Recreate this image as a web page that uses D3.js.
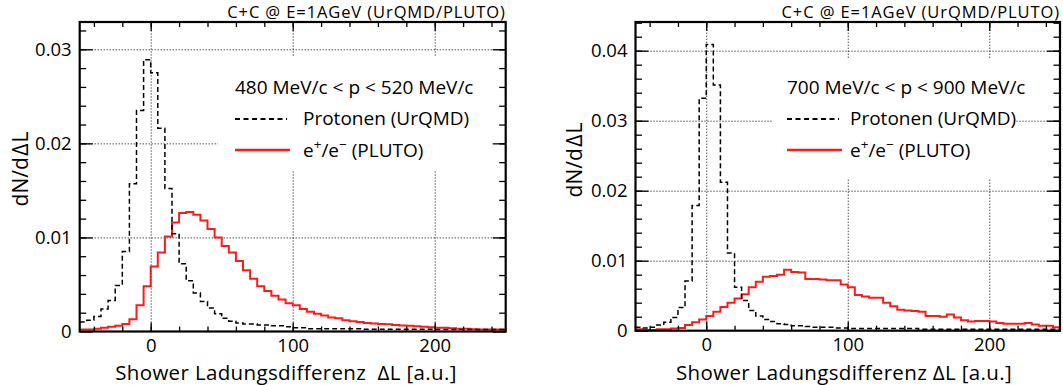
<!DOCTYPE html>
<html>
<head>
<meta charset="utf-8">
<script src="https://cdn.jsdelivr.net/npm/d3@7/dist/d3.min.js"></script>
<style>
  body { margin: 0; background: #fff; }
  svg { display: block; font-family: "Open Sans", Lato, sans-serif; }
  .pre { white-space: pre; }
</style>
</head>
<body>
<svg id="chart" width="1063" height="385"></svg>
<script>
// Lower edges of the 5-unit histogram bins, -50 ... 245
const binLow = d3.range(-50, 250, 5);

// 480 MeV/c < p < 520 MeV/c
const protonsLow = [
  0.0010, 0.0012, 0.0016, 0.0024, 0.0033, 0.0049, 0.0085, 0.0157, 0.0235, 0.0289,
  0.0275, 0.0216, 0.0152, 0.0104, 0.0072, 0.0054, 0.0041, 0.0032, 0.0025, 0.0019,
  0.0014, 0.0011, 0.0009, 0.0008, 0.0008, 0.0007, 0.0007, 0.0006, 0.0006, 0.0005,
  0.0004, 0.0004, 0.0003, 0.0003, 0.0003, 0.0003, 0.0003, 0.0003, 0.0003, 0.0003,
  0.00025, 0.00025, 0.00025, 0.00025, 0.00025, 0.00025, 0.00025, 0.00025, 0.00025, 0.00025,
  0.0002, 0.0002, 0.0002, 0.0002, 0.0002, 0.0002, 0.0002, 0.0002, 0.0002, 0.0002
];
const leptonsLow = [
  0.0002, 0.0002, 0.0003, 0.0004, 0.0005, 0.0006, 0.0008, 0.0013, 0.0028, 0.0048,
  0.0069, 0.0084, 0.0101, 0.0116, 0.0126, 0.0127, 0.0124, 0.0118, 0.0109, 0.0100,
  0.0091, 0.0084, 0.0075, 0.0065, 0.0056, 0.0048, 0.0043, 0.0038, 0.0034, 0.0030,
  0.0028, 0.0024, 0.0021, 0.0019, 0.0017, 0.0015, 0.0014, 0.0012, 0.0011, 0.0010,
  0.0009, 0.00085, 0.0008, 0.00077, 0.0007, 0.00065, 0.0006, 0.00055, 0.0005, 0.00045,
  0.0004, 0.0004, 0.00035, 0.0003, 0.0003, 0.00025, 0.00022, 0.0002, 0.0002, 0.0002
];

// 700 MeV/c < p < 900 MeV/c
const protonsHigh = [
  0.0005, 0.0004, 0.0005, 0.0008, 0.0012, 0.0019, 0.0033, 0.0071, 0.0179, 0.0332,
  0.0409, 0.0351, 0.0212, 0.0111, 0.0062, 0.0043, 0.0029, 0.0021, 0.0016, 0.0013,
  0.0010, 0.0009, 0.0007, 0.0007, 0.0006, 0.0005, 0.0005, 0.0005, 0.0004, 0.0004,
  0.0003, 0.0003, 0.0003, 0.0003, 0.0003, 0.0003, 0.0003, 0.0003, 0.0003, 0.0003,
  0.0002, 0.0002, 0.0002, 0.0002, 0.0002, 0.0002, 0.0002, 0.0002, 0.0002, 0.0002,
  0.0002, 0.0002, 0.0002, 0.0002, 0.0002, 0.0002, 0.0002, 0.0002, 0.0002, 0.0002
];
const leptonsHigh = [
  0.0002, 0.0001, 0.0001, 0.0002, 0.0002, 0.0003, 0.0004, 0.0008, 0.0012, 0.0016,
  0.0021, 0.0027, 0.0034, 0.0040, 0.0046, 0.0052, 0.0062, 0.0070, 0.0077, 0.0078,
  0.0080, 0.0087, 0.0084, 0.0083, 0.0074, 0.0074, 0.0073, 0.0072, 0.0072, 0.0066,
  0.0062, 0.0051, 0.0049, 0.0047, 0.0047, 0.0040, 0.0035, 0.0030, 0.0029, 0.0028,
  0.0027, 0.0021, 0.0021, 0.0020, 0.0023, 0.0019, 0.0015, 0.0013, 0.0014, 0.0014,
  0.0013, 0.0011, 0.0010, 0.0010, 0.0010, 0.0011, 0.0009, 0.0007, 0.0007, 0.0005
];

const xDomain = [-50, 250];
const xMajorTicks = [0, 100, 200];
const xMinorTicks = d3.range(-40, 250, 20);
const yTicksLow = [0, 0.01, 0.02, 0.03];
const yTicksHigh = [0, 0.01, 0.02, 0.03, 0.04];

const titleText = "C+C @ E=1AGeV (UrQMD/PLUTO)";
const protonLabel = "Protonen (UrQMD)";

const svg = d3.select("#chart");
svg.append("rect").attr("width", 1063).attr("height", 385).attr("fill", "#fff");

const fmtY = v => (v === 0 ? "0" : d3.format(".2f")(v));

function drawPanel(cfg) {
  const g = svg.append("g");
  const x = d3.scaleLinear().domain(xDomain).range([cfg.left, cfg.right]);
  const y = d3.scaleLinear().domain([0, cfg.ymax]).range([cfg.bottom, cfg.top]);
  const w = cfg.right - cfg.left, h = cfg.bottom - cfg.top;

  // dotted grid
  const gridX = g.append("g").attr("transform", `translate(0,${cfg.bottom})`)
    .call(d3.axisBottom(x).tickValues(xMajorTicks).tickSize(-h).tickFormat(""));
  const gridY = g.append("g").attr("transform", `translate(${cfg.left},0)`)
    .call(d3.axisLeft(y).tickValues(cfg.yTicks.filter(v => v > 0)).tickSize(-w).tickFormat(""));
  [gridX, gridY].forEach(s => {
    s.select(".domain").remove();
    s.selectAll("line").attr("stroke", "#000").attr("stroke-width", 1).attr("stroke-dasharray", "1,2");
  });

  // legend background
  g.append("rect")
    .attr("x", cfg.legend.boxX).attr("y", cfg.legend.boxY)
    .attr("width", cfg.legend.boxW).attr("height", cfg.legend.boxH)
    .attr("fill", "#fff");

  // histograms
  const clipId = "clip-" + cfg.id;
  svg.append("clipPath").attr("id", clipId).append("rect")
    .attr("x", cfg.left).attr("y", cfg.top).attr("width", w).attr("height", h);
  const step = d3.line().x(d => x(d[0])).y(d => y(d[1])).curve(d3.curveStepAfter);
  const pts = vals => binLow.map((b, i) => [b, vals[i]]).concat([[xDomain[1], vals[vals.length - 1]]]);
  const hg = g.append("g").attr("clip-path", `url(#${clipId})`);
  hg.append("path").attr("d", step(pts(cfg.leptons)))
    .attr("fill", "none").attr("stroke", "#ff1a1a").attr("stroke-width", 2);
  hg.append("path").attr("d", step(pts(cfg.protons)))
    .attr("fill", "none").attr("stroke", "#000").attr("stroke-width", 1.5)
    .attr("stroke-dasharray", "5,3");

  // frame
  g.append("rect").attr("x", cfg.left).attr("y", cfg.top).attr("width", w).attr("height", h)
    .attr("fill", "none").attr("stroke", "#000").attr("stroke-width", 2.2);

  // ticks on all four sides, pointing inward
  const tickStyle = s => {
    s.select(".domain").remove();
    s.selectAll("line").attr("stroke", "#000").attr("stroke-width", 1.3);
  };
  const yMinor = d3.range(1, Math.floor(cfg.ymax / 0.002) + 1).map(k => k * 0.002);
  g.append("g").attr("transform", `translate(0,${cfg.bottom})`)
    .call(d3.axisBottom(x).tickValues(xMinorTicks).tickSizeInner(-5).tickSizeOuter(0).tickFormat("")).call(tickStyle);
  g.append("g").attr("transform", `translate(0,${cfg.top})`)
    .call(d3.axisTop(x).tickValues(xMinorTicks).tickSizeInner(-5).tickSizeOuter(0).tickFormat("")).call(tickStyle);
  g.append("g").attr("transform", `translate(0,${cfg.top})`)
    .call(d3.axisTop(x).tickValues(xMajorTicks).tickSizeInner(-9).tickSizeOuter(0).tickFormat("")).call(tickStyle);
  const xb = g.append("g").attr("transform", `translate(0,${cfg.bottom})`)
    .call(d3.axisBottom(x).tickValues(xMajorTicks).tickSizeInner(-9).tickSizeOuter(0).tickPadding(7)).call(tickStyle);
  xb.selectAll("text").attr("font-size", 18.5).attr("font-family", "'Open Sans', sans-serif").attr("fill", "#000");

  g.append("g").attr("transform", `translate(${cfg.left},0)`)
    .call(d3.axisLeft(y).tickValues(yMinor).tickSizeInner(-6.5).tickSizeOuter(0).tickFormat("")).call(tickStyle);
  g.append("g").attr("transform", `translate(${cfg.right},0)`)
    .call(d3.axisRight(y).tickValues(yMinor).tickSizeInner(-6.5).tickSizeOuter(0).tickFormat("")).call(tickStyle);
  g.append("g").attr("transform", `translate(${cfg.right},0)`)
    .call(d3.axisRight(y).tickValues(cfg.yTicks).tickSizeInner(-13).tickSizeOuter(0).tickFormat("")).call(tickStyle);
  const yl = g.append("g").attr("transform", `translate(${cfg.left},0)`)
    .call(d3.axisLeft(y).tickValues(cfg.yTicks).tickSizeInner(-13).tickSizeOuter(0).tickPadding(8).tickFormat(fmtY)).call(tickStyle);
  yl.selectAll("text").attr("font-size", 18.5).attr("font-family", "'Open Sans', sans-serif").attr("fill", "#000");

  // titles
  g.append("text").attr("x", cfg.right).attr("y", 17.8).attr("text-anchor", "end")
    .attr("font-size", 16.5).attr("letter-spacing", 0.9).text(titleText);
  g.append("text").attr("class", "pre").attr("x", cfg.xTitleX).attr("y", 379.5).attr("text-anchor", "middle")
    .attr("font-size", 20.5).attr("letter-spacing", 0.35).text(cfg.xTitle);
  const yt = g.append("text").attr("transform", `translate(${cfg.yTitleX},${cfg.yTitleY}) rotate(-90)`)
    .attr("text-anchor", "middle").attr("font-size", 21);
  yt.append("tspan").text("dN/d");
  yt.append("tspan").attr("dx", 1.5).text("\u0394");
  yt.append("tspan").attr("dx", 1).text("L");

  // legend
  const L = cfg.legend;
  g.append("text").attr("x", L.x).attr("y", 94).attr("font-size", 19).text(cfg.range);
  g.append("line").attr("x1", L.x).attr("x2", L.x + 52).attr("y1", 119).attr("y2", 119)
    .attr("stroke", "#000").attr("stroke-width", 2).attr("stroke-dasharray", "5,3.5");
  g.append("text").attr("x", L.textX).attr("y", 125).attr("font-size", 19).text(protonLabel);
  g.append("line").attr("x1", L.x).attr("x2", L.x + 55).attr("y1", 150).attr("y2", 150)
    .attr("stroke", "#ff1a1a").attr("stroke-width", 2.5);
  const lt = g.append("text").attr("x", L.textX).attr("y", 157).attr("font-size", 19);
  lt.append("tspan").text("e");
  lt.append("tspan").attr("dy", -8).attr("font-size", 13.5).text("+");
  lt.append("tspan").attr("dy", 8).text("/e");
  lt.append("tspan").attr("dy", -8).attr("font-size", 13.5).text("\u2212");
  lt.append("tspan").attr("dy", 8).text(" (PLUTO)");
}

drawPanel({
  id: "low", left: 79.7, right: 505.7, top: 22, bottom: 331.5, ymax: 0.0329,
  yTicks: yTicksLow, protons: protonsLow, leptons: leptonsLow,
  range: "480 MeV/c < p < 520 MeV/c",
  xTitle: "Shower Ladungsdifferenz  \u0394L [a.u.]", xTitleX: 286,
  yTitleX: 28, yTitleY: 169,
  legend: { boxX: 218, boxY: 56, boxW: 282, boxH: 115, x: 235, textX: 303 }
});
drawPanel({
  id: "high", left: 635.5, right: 1060, top: 22, bottom: 330.7, ymax: 0.0441,
  yTicks: yTicksHigh, protons: protonsHigh, leptons: leptonsHigh,
  range: "700 MeV/c < p < 900 MeV/c",
  xTitle: "Shower Ladungsdifferenz \u0394L [a.u.]", xTitleX: 844,
  yTitleX: 582, yTitleY: 160,
  legend: { boxX: 772, boxY: 58, boxW: 242, boxH: 120, x: 787, textX: 850 }
});
</script>
</body>
</html>
